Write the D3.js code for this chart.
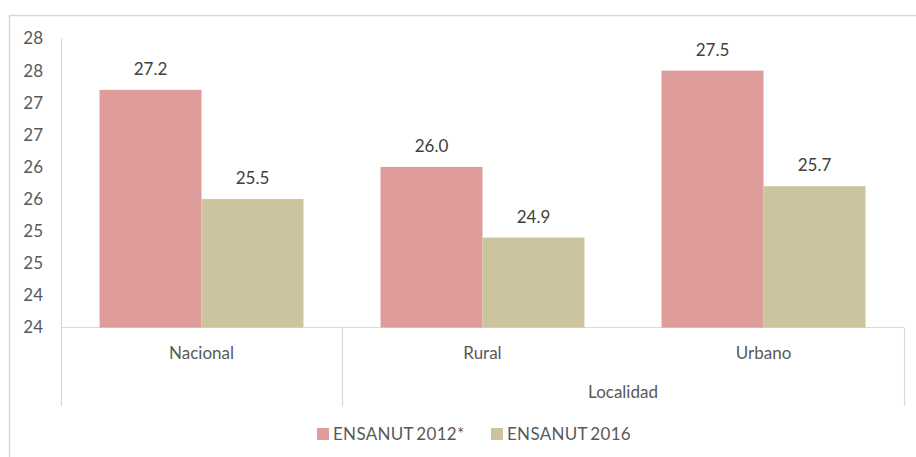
<!DOCTYPE html>
<html>
<head>
<meta charset="utf-8">
<script src="https://cdn.jsdelivr.net/npm/d3@7"></script>
<style>
  body { margin: 0; background: #fff; }
  svg { display: block; font-family: Lato, "Open Sans", sans-serif; }
</style>
</head>
<body>
<svg width="916" height="457"></svg>
<script>
// chart values
var categories = ["Nacional", "Rural", "Urbano"];
var groupLabel = "Localidad";
var series = ["ENSANUT 2012*", "ENSANUT 2016"];
var values2012 = [27.2, 26.0, 27.5];
var values2016 = [25.5, 24.9, 25.7];
var yTicks = [23.5, 24, 24.5, 25, 25.5, 26, 26.5, 27, 27.5, 28];
var colors = ["#de9d9b", "#ccc49f"];

var svg = d3.select("svg");
var plotLeft = 61, plotRight = 904, plotTop = 38.5, base = 327.5, catBottom = 406;

// outer border of chart area
svg.append("path")
  .attr("d", "M9.5,457 V15.5 H916")
  .attr("fill", "none")
  .attr("stroke", "#d9d9d9")
  .attr("stroke-width", 1.5);

var x0 = d3.scaleBand().domain(categories).range([plotLeft, plotRight]).padding(0);
var x1 = d3.scaleBand().domain(series).range([0, x0.bandwidth()]).paddingInner(0).paddingOuter(0.378);
var y = d3.scaleLinear().domain([23.5, 28]).range([base, plotTop]);

var data = categories.map(function(c, i) {
  return { cat: c, vals: [values2012[i], values2016[i]] };
});

// y axis
var yAxis = svg.append("g")
  .attr("transform", "translate(" + plotLeft + ",0)")
  .call(d3.axisLeft(y).tickValues(yTicks).tickFormat(d3.format(".0f")).tickSize(0).tickPadding(18));
yAxis.select(".domain").remove();
yAxis.selectAll("text")
  .attr("fill", "#595959")
  .style("font-size", "17px")
  .style("font-family", "Lato, sans-serif");

var lineColor = "#d9d9d9";
// vertical axis line extending into category area
svg.append("line").attr("x1", plotLeft + 0.5).attr("x2", plotLeft + 0.5)
  .attr("y1", y(28)).attr("y2", catBottom).attr("stroke", lineColor).attr("stroke-width", 1.2);
// baseline
svg.append("line").attr("x1", plotLeft).attr("x2", plotRight)
  .attr("y1", base).attr("y2", base).attr("stroke", lineColor).attr("stroke-width", 1.2);
// group separators (Nacional | Localidad group | end)
[x0("Rural"), plotRight].forEach(function(xx) {
  svg.append("line").attr("x1", xx + 0.5).attr("x2", xx + 0.5)
    .attr("y1", base).attr("y2", catBottom).attr("stroke", lineColor).attr("stroke-width", 1.2);
});

// bars
var g = svg.selectAll(".cat").data(data).enter().append("g")
  .attr("class", "cat")
  .attr("transform", function(d) { return "translate(" + x0(d.cat) + ",0)"; });

g.selectAll("rect").data(function(d) { return d.vals; }).enter().append("rect")
  .attr("x", function(d, i) { return x1(series[i]); })
  .attr("width", x1.bandwidth())
  .attr("y", function(d) { return y(d); })
  .attr("height", function(d) { return base - y(d); })
  .attr("fill", function(d, i) { return colors[i]; });

g.selectAll(".lbl").data(function(d) { return d.vals; }).enter().append("text")
  .attr("class", "lbl")
  .attr("x", function(d, i) { return x1(series[i]) + x1.bandwidth() / 2; })
  .attr("y", function(d) { return y(d) - 15; })
  .attr("text-anchor", "middle")
  .attr("fill", "#404040")
  .style("font-size", "17px")
  .text(function(d) { return d3.format(".1f")(d); });

// category labels
svg.selectAll(".catlbl").data(categories).enter().append("text")
  .attr("class", "catlbl")
  .attr("x", function(d) { return x0(d) + x0.bandwidth() / 2; })
  .attr("y", 359)
  .attr("text-anchor", "middle")
  .attr("fill", "#595959")
  .style("font-size", "17px")
  .text(function(d) { return d; });

svg.append("text")
  .attr("x", x0("Urbano"))
  .attr("y", 398)
  .attr("text-anchor", "middle")
  .attr("fill", "#595959")
  .style("font-size", "17px")
  .text(groupLabel);

// legend
var legendX = [317, 491];
var lg = svg.selectAll(".leg").data(series).enter().append("g")
  .attr("class", "leg")
  .attr("transform", function(d, i) { return "translate(" + legendX[i] + ",428)"; });
lg.append("rect").attr("width", 12).attr("height", 12)
  .attr("fill", function(d, i) { return colors[i]; });
lg.append("text").attr("x", 16).attr("y", 12)
  .attr("fill", "#595959")
  .style("font-size", "17px")
  .style("letter-spacing", "0.3px")
  .text(function(d) { return d.replace("ENSANUT ", "ENSANUT\u2009"); });
</script>
</body>
</html>
